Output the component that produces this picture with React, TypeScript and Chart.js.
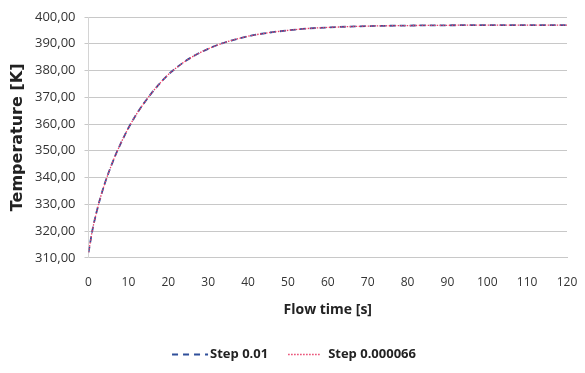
import React, { useEffect, useRef } from "react";
import { Chart, registerables } from "chart.js";

Chart.register(...registerables);

const timeSeconds = [0, 1, 2, 3, 4, 5, 6, 7, 8, 9, 10, 12, 14, 16, 18, 20, 22, 24, 26, 28, 30, 33, 36, 40, 45, 50, 55, 60, 70, 80, 90, 100, 110, 120];
const tempStep001 = [312, 320.5, 327, 332.6, 337.4, 341.7, 345.6, 349.2, 352.5, 355.6, 358.5, 363.6, 368, 371.9, 375.4, 378.5, 381, 383.2, 385.1, 386.7, 388.1, 389.9, 391.3, 392.8, 394.1, 395, 395.7, 396.1, 396.6, 396.8, 396.9, 397, 397, 397];
const tempStep000066 = [312, 320.5, 327, 332.6, 337.4, 341.7, 345.6, 349.2, 352.5, 355.6, 358.5, 363.6, 368, 371.9, 375.4, 378.5, 381, 383.2, 385.1, 386.7, 388.1, 389.9, 391.3, 392.8, 394.1, 395, 395.7, 396.1, 396.6, 396.8, 396.9, 397, 397, 397];
const seriesLabels = ["Step 0.01", "Step 0.000066"];
const xTitle = "Flow time [s]";
const yTitle = "Temperature [K]";

const legendPlugin = {
  id: "customLegend",
  afterDraw(chart: any) {
    const ctx = chart.ctx as CanvasRenderingContext2D;
    const ds = chart.data.datasets;
    ctx.save();
    ctx.font = 'bold 13px "Open Sans"';
    ctx.textBaseline = "middle";
    const sampleW = [36, 32];
    const sampleGap = [2, 8];
    const itemGap = 20;
    const widths = ds.map((d: any) => ctx.measureText(d.label).width);
    let total = 0;
    ds.forEach((_: any, i: number) => {
      total += sampleW[i] + sampleGap[i] + widths[i] + (i < ds.length - 1 ? itemGap : 0);
    });
    let x = chart.width / 2 - total / 2 + 1.5;
    const y = 354.5;
    ds.forEach((d: any, i: number) => {
      ctx.beginPath();
      ctx.strokeStyle = d.borderColor;
      ctx.lineWidth = d.borderWidth;
      ctx.setLineDash(i === 0 ? [6, 5] : d.borderDash || []);
      ctx.moveTo(x, y);
      ctx.lineTo(x + sampleW[i], y);
      ctx.stroke();
      ctx.setLineDash([]);
      x += sampleW[i] + sampleGap[i];
      ctx.fillStyle = "#222";
      ctx.textAlign = "left";
      ctx.fillText(d.label, x, y);
      x += widths[i] + itemGap;
    });
    ctx.restore();
  },
};

export default function App() {
  const ref = useRef<HTMLCanvasElement | null>(null);

  useEffect(() => {
    document.body.style.margin = "0";
    const canvas = ref.current;
    if (!canvas) return;
    const chart = new Chart(canvas, {
      type: "line",
      data: {
        datasets: [
          {
            label: seriesLabels[0],
            data: timeSeconds.map((t, i) => ({ x: t, y: tempStep001[i] })),
            borderColor: "#2f4f9a",
            borderWidth: 1.8,
            borderDash: [6, 4],
            pointRadius: 0,
            cubicInterpolationMode: "monotone",
            order: 1,
          },
          {
            label: seriesLabels[1],
            data: timeSeconds.map((t, i) => ({ x: t, y: tempStep000066[i] })),
            borderColor: "#e8406a",
            borderWidth: 1.3,
            borderDash: [1.5, 1.5],
            pointRadius: 0,
            cubicInterpolationMode: "monotone",
            order: 0,
          },
        ],
      },
      options: {
        animation: false,
        responsive: false,
        devicePixelRatio: 1,
        layout: { padding: { top: 17, right: 18, left: 0, bottom: 43 } },
        plugins: {
          tooltip: { enabled: false },
          legend: { display: false },
        },
        scales: {
          x: {
            type: "linear",
            min: 0,
            max: 120,
            ticks: {
              stepSize: 10,
              padding: 2,
              color: "#333",
              font: { family: "Open Sans", size: 12 },
            },
            grid: { display: false, drawTicks: true, tickLength: 16 },
            border: { display: true, color: "#c8c8c8" },
            title: {
              display: true,
              text: xTitle,
              color: "#222",
              font: { family: "Open Sans", size: 14, weight: "bold" },
              padding: { top: 9, bottom: 12 },
            },
          },
          y: {
            min: 310,
            max: 400,
            ticks: {
              stepSize: 10,
              padding: 9,
              color: "#333",
              font: { family: "Open Sans", size: 13 },
              callback: (v: any) => Number(v).toFixed(2).replace(".", ","),
            },
            grid: { color: "#c8c8c8", tickLength: 4, lineWidth: 1 },
            border: { display: true, color: "#d4d4d4" },
            title: {
              display: true,
              text: yTitle,
              color: "#222",
              font: { family: "DejaVu Sans", size: 16, weight: "bold", lineHeight: 1 },
              padding: { top: 10, bottom: 0 },
            },
          },
        },
      },
      plugins: [legendPlugin],
    });
    return () => chart.destroy();
  }, []);

  return (
    <div style={{ width: 585, height: 373 }}>
      <canvas ref={ref} width={585} height={373} />
    </div>
  );
}
